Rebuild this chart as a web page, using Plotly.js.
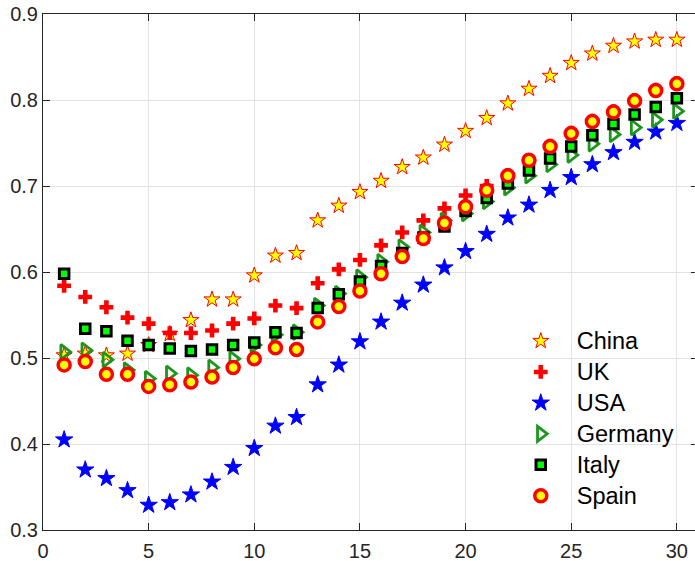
<!DOCTYPE html>
<html>
<head>
<meta charset="utf-8">
<script src="https://cdn.plot.ly/plotly-3.0.1.min.js"></script>
<style>
  html, body { margin: 0; padding: 0; overflow: hidden; background: #fff; }
  #chart { width: 698px; height: 561px; }
</style>
</head>
<body>
<div id="chart"></div>
<script>
// Index along the horizontal axis
const steps = Array.from({length: 30}, (_, i) => i + 1);

// Series values per country
const china   = [0.503, 0.505, 0.503, 0.505, 0.515, 0.528, 0.544, 0.568, 0.568, 0.596,
                 0.619, 0.622, 0.660, 0.677, 0.693, 0.706, 0.722, 0.733, 0.748, 0.764,
                 0.779, 0.796, 0.813, 0.828, 0.843, 0.854, 0.863, 0.868, 0.870, 0.870];
const uk      = [0.584, 0.571, 0.559, 0.547, 0.540, 0.529, 0.529, 0.532, 0.540, 0.546,
                 0.561, 0.558, 0.587, 0.603, 0.614, 0.631, 0.646, 0.660, 0.674, 0.689,
                 0.700, 0.713, 0.730, 0.747, 0.762, 0.776, 0.787, 0.800, 0.812, 0.820];
const usa     = [0.405, 0.370, 0.360, 0.346, 0.329, 0.332, 0.341, 0.356, 0.373, 0.395,
                 0.421, 0.431, 0.469, 0.492, 0.519, 0.542, 0.564, 0.585, 0.605, 0.624,
                 0.644, 0.663, 0.678, 0.695, 0.710, 0.725, 0.739, 0.751, 0.763, 0.773];
const germany = [0.507, 0.509, 0.498, 0.486, 0.476, 0.482, 0.480, 0.489, 0.499, 0.515,
                 0.527, 0.530, 0.561, 0.575, 0.594, 0.612, 0.629, 0.646, 0.660, 0.668,
                 0.682, 0.698, 0.712, 0.725, 0.736, 0.749, 0.760, 0.768, 0.777, 0.787];
const italy   = [0.598, 0.534, 0.531, 0.520, 0.515, 0.511, 0.508, 0.510, 0.515, 0.518,
                 0.530, 0.529, 0.558, 0.574, 0.589, 0.607, 0.622, 0.640, 0.653, 0.671,
                 0.686, 0.703, 0.718, 0.732, 0.746, 0.759, 0.772, 0.783, 0.792, 0.802];
const spain   = [0.492, 0.496, 0.481, 0.481, 0.467, 0.469, 0.472, 0.478, 0.489, 0.499,
                 0.512, 0.510, 0.542, 0.560, 0.578, 0.598, 0.618, 0.639, 0.657, 0.676,
                 0.695, 0.712, 0.730, 0.746, 0.761, 0.775, 0.786, 0.799, 0.811, 0.819];

const xTicks = [0, 5, 10, 15, 20, 25, 30];
const yTicks = [0.3, 0.4, 0.5, 0.6, 0.7, 0.8, 0.9];

// Legend labels are set a little larger than the legend's row spacing font
const label = s => '<span style="font-size:23.5px">' + s + '</span>';

function series(name, y, marker) {
  return { type: 'scatter', mode: 'markers', name: label(name), x: steps, y: y, marker: marker, cliponaxis: false };
}

const traces = [
  series('China', china, { symbol: 'star', size: 12, color: '#ffff00', line: { color: '#ff0000', width: 1 } }),
  series('UK', uk, { symbol: 'cross', size: 11.5, color: '#ff0000', line: { width: 0 } }),
  series('USA', usa, { symbol: 'star', size: 13, color: '#0000ff', line: { color: '#0000ff', width: 1 } }),
  series('Germany', germany, { symbol: 'triangle-right-open', size: 13, color: '#1c961c', line: { width: 2.8 } }),
  series('Italy', italy, { symbol: 'square', size: 9.5, color: '#00ff00', line: { color: '#000000', width: 3 } }),
  series('Spain', spain, { symbol: 'circle', size: 12, color: '#ffff00', line: { color: '#ff0000', width: 3.5 } })
];

const axisStyle = {
  showgrid: true, gridcolor: '#e3e3e3', gridwidth: 1,
  showline: true, linecolor: '#262626', linewidth: 1, mirror: 'ticks',
  ticks: 'inside', ticklen: 7, tickcolor: '#262626', tickwidth: 1,
  zeroline: false,
  tickfont: { family: 'Liberation Sans, Arial, sans-serif', size: 20, color: '#262626' }
};

const layout = {
  width: 698, height: 561,
  margin: { l: 43, r: 0, t: 14, b: 31, pad: 0 },
  paper_bgcolor: '#ffffff', plot_bgcolor: '#ffffff',
  font: { family: 'Liberation Sans, Arial, sans-serif' },
  xaxis: Object.assign({}, axisStyle, { range: [0, 31], tickmode: 'array', tickvals: xTicks, ticktext: xTicks.map(String), ticklabelstandoff: 3 }),
  yaxis: Object.assign({}, axisStyle, { range: [0.3, 0.9], tickmode: 'array', tickvals: yTicks, ticktext: yTicks.map(v => v.toFixed(1)) }),
  showlegend: true,
  legend: {
    x: 0.705, xanchor: 'left', y: 0.406, yanchor: 'top',
    bgcolor: 'rgba(0,0,0,0)', borderwidth: 0, itemwidth: 62,
    font: { family: 'Liberation Sans, Arial, sans-serif', size: 21.5, color: '#000000' }
  }
};

Plotly.newPlot('chart', traces, layout, { displayModeBar: false, staticPlot: true });
</script>
</body>
</html>
